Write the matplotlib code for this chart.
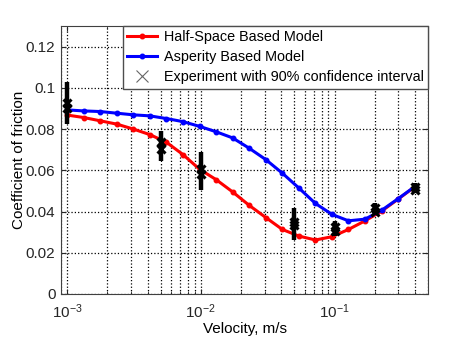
import matplotlib
matplotlib.use("Agg")
import matplotlib.pyplot as plt
from matplotlib.lines import Line2D
from matplotlib.ticker import FormatStrFormatter

plt.rcParams["font.family"] = ["Liberation Sans", "DejaVu Sans"]
plt.rcParams["font.size"] = 10

# model velocities (m/s)
model_velocity = [0.001, 0.00133, 0.00177, 0.00235, 0.00313, 0.00416, 0.00553,
                  0.00736, 0.00979, 0.0130, 0.0173, 0.0230, 0.0306, 0.0407,
                  0.0541, 0.0720, 0.0957, 0.127, 0.169, 0.225, 0.300, 0.400]

half_space_mu = [0.0868, 0.0856, 0.0840, 0.0824, 0.0800, 0.0773, 0.0736,
                 0.0676, 0.0605, 0.0555, 0.0495, 0.0430, 0.0371, 0.0313,
                 0.0281, 0.0262, 0.0278, 0.0313, 0.0355, 0.0402, 0.0461, 0.0521]

asperity_mu = [0.0893, 0.0888, 0.0885, 0.0877, 0.0869, 0.0864, 0.0851,
               0.0836, 0.0813, 0.0787, 0.0757, 0.0707, 0.0652, 0.0586,
               0.0514, 0.0439, 0.0386, 0.0355, 0.0363, 0.0406, 0.0463, 0.0522]

# experiments: two runs per velocity, plus the 90% interval
exp_velocity = [0.001, 0.005, 0.01, 0.05, 0.1, 0.2, 0.4]
exp_mu_run1 = [0.0928, 0.0736, 0.0607, 0.0350, 0.0326, 0.0415, 0.0519]
exp_mu_run2 = [0.0904, 0.0704, 0.0583, 0.0334, 0.0305, 0.0398, 0.0506]
exp_low = [0.0825, 0.0647, 0.0506, 0.0262, 0.0280, 0.0382, 0.0490]
exp_high = [0.1028, 0.0792, 0.0687, 0.0419, 0.0355, 0.0439, 0.0538]

y_ticks = [0, 0.02, 0.04, 0.06, 0.08, 0.1, 0.12]


def draw_friction_chart(png_name):
    fig = plt.figure(figsize=(4.74, 3.37), dpi=100)
    ax = fig.add_axes([0.1287, 0.1276, 0.7743, 0.7953])

    ax.plot(model_velocity, half_space_mu, color="#ff0000", lw=2.2,
            marker=".", ms=6.5, label="Half-Space Based Model", zorder=3)
    ax.plot(model_velocity, asperity_mu, color="#0000ff", lw=2.2,
            marker=".", ms=6.5, label="Asperity Based Model", zorder=3)

    ax.vlines(exp_velocity, exp_low, exp_high, color="black", lw=3.2, zorder=4)
    ax.plot(exp_velocity, exp_mu_run1, ls="none", marker="x", ms=6, mew=2.2,
            color="black", zorder=5)
    ax.plot(exp_velocity, exp_mu_run2, ls="none", marker="x", ms=6, mew=2.2,
            color="black", zorder=5)

    ax.set_xscale("log")
    ax.set_xlim(0.0009, 0.5)
    ax.set_ylim(0, 0.13)
    ax.set_yticks(y_ticks)
    ax.yaxis.set_major_formatter(FormatStrFormatter("%g"))

    ax.grid(True, which="major", axis="both", ls=":", color="black", lw=0.9)
    ax.grid(True, which="minor", axis="x", ls=":", color="black", lw=0.9)
    ax.tick_params(which="both", direction="in", top=True, right=True,
                   labelsize=11, colors="0.15")
    ax.tick_params(axis="x", pad=6)
    ax.tick_params(axis="y", pad=4)
    for spine in ax.spines.values():
        spine.set_color("0.25")

    ax.set_xlabel("Velocity, m/s", fontsize=11, labelpad=1)
    ax.set_ylabel("Coefficient of friction", fontsize=11, labelpad=0)

    handles, labels = ax.get_legend_handles_labels()
    handles.append(Line2D([], [], ls="none", marker="x", ms=8, mew=0.8,
                          color="0.4"))
    labels.append("Experiment with 90% confidence interval")
    leg = ax.legend(handles, labels, loc="upper right", borderaxespad=0,
                    fancybox=False, numpoints=1, fontsize=10.4,
                    handlelength=2.1, handletextpad=0.45, labelspacing=0.42,
                    borderpad=0.3, framealpha=1)
    leg.get_frame().set_edgecolor("0.3")
    leg.get_frame().set_linewidth(1.0)
    leg.set_zorder(10)

    fig.savefig(png_name, dpi=100)


if __name__ == "__main__":
    draw_friction_chart("out.png")
